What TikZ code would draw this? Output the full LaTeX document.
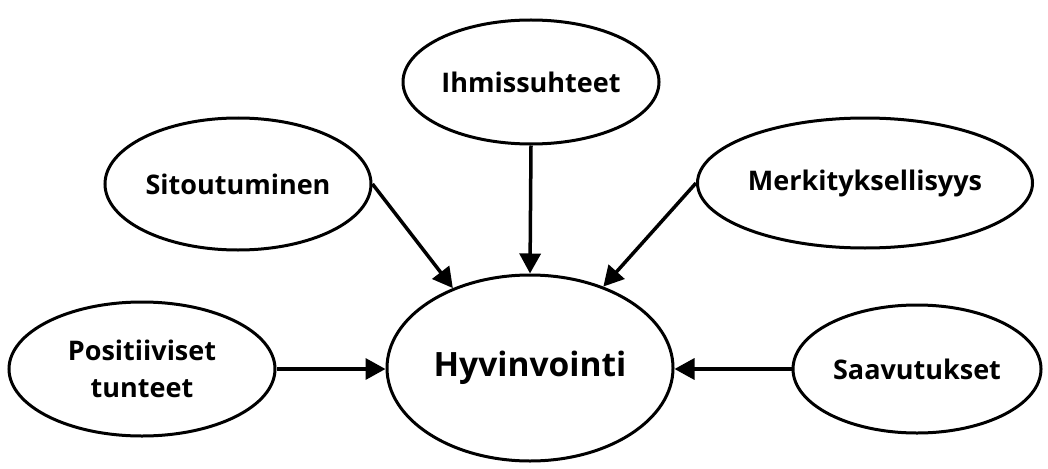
\documentclass[tikz,border=0pt]{standalone}
\usepackage{fontspec}
\setmainfont{Open Sans}
\usetikzlibrary{shapes.geometric,arrows.meta}

\tikzset{
  factor/.style={ellipse, draw=black, line width=3pt, inner sep=0pt,
    font=\bfseries\fontsize{27}{37}\selectfont, align=center},
  link/.style={line width=3.5pt, -{Triangle[length=20pt,width=21pt]}},
}

\begin{document}
\begin{tikzpicture}[x=1pt,y=-1pt]
  \useasboundingbox[fill=white] (0,0) rectangle (1048,468);

  % central concept
  \node[factor, minimum width=286pt, minimum height=186pt,
        font=\bfseries\fontsize{33.5}{40}\selectfont] (hyv) at (530,368) {Hyvinvointi};

  % contributing factors
  \node[factor, minimum width=256pt, minimum height=124pt] (ihm) at (531,82) {Ihmissuhteet};
  \node[factor, minimum width=266pt, minimum height=132pt] (sit) at (238,184) {Sitoutuminen};
  \node[factor, minimum width=335pt, minimum height=130pt] (mer) at (865,183) {Merkityksellisyys};
  \node[factor, minimum width=266pt, minimum height=134pt] (pos) at (142,369) {Positiiviset\\tunteet};
  \node[factor, minimum width=248pt, minimum height=128pt] (saa) at (917,369) {Saavutukset};

  % arrows into the central concept
  \draw[link] (sit.east) -- (hyv.134);
  \draw[link] (ihm.south) -- (hyv.north);
  \draw[link] (mer.west) -- (hyv.48);
  \draw[link] (pos.east) -- (pos.east -| hyv.west);
  \draw[link] (saa.west) -- (saa.west -| hyv.east);
\end{tikzpicture}
\end{document}
